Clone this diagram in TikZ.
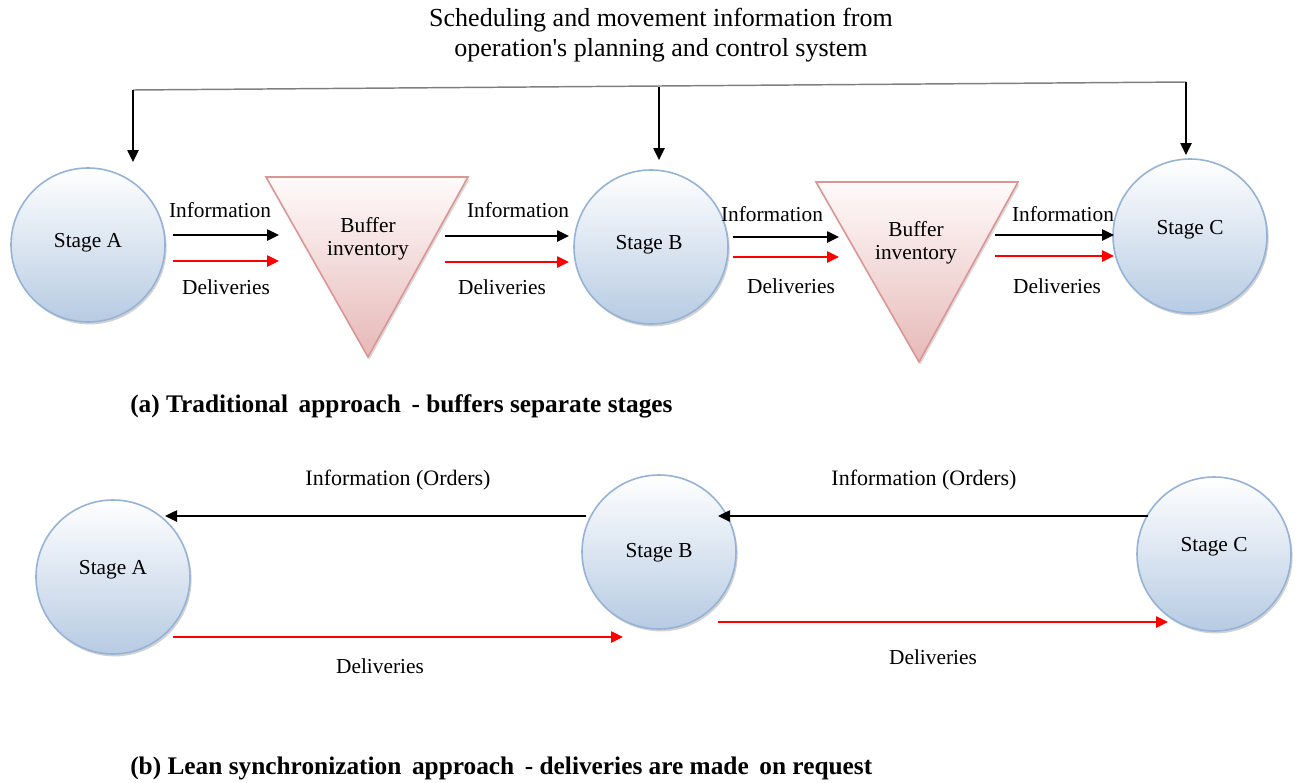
\documentclass[tikz,border=0pt]{standalone}
\usepackage{fontspec}
\setmainfont{Liberation Serif}
\newfontfamily\rawserif{Liberation Serif}
\usetikzlibrary{arrows.meta,shadows}
\definecolor{stageedge}{HTML}{95B3D7}
\definecolor{stagebot}{HTML}{B7CBE3}
\definecolor{bufedge}{HTML}{D99694}
\definecolor{bufbot}{HTML}{E6B9B8}
\definecolor{buftop}{HTML}{FFFAFA}
\definecolor{topline}{HTML}{7F7F7F}
\begin{document}
\begin{tikzpicture}[x=0.75pt,y=-0.75pt,
  font=\fontsize{16}{17.5}\selectfont,
  stage/.style={circle, draw=stageedge, line width=1.2pt, minimum size=115.5pt, inner sep=0pt,
    top color=white, bottom color=stagebot,
    drop shadow={shadow xshift=1.2pt, shadow yshift=-1.8pt, opacity=0.25, fill=black!70}},
  buffer/.style={draw=bufedge, line width=1.2pt, top color=buftop, bottom color=bufbot,
    drop shadow={shadow xshift=1.2pt, shadow yshift=-1.8pt, opacity=0.2, fill=black!70}},
  tip/.style={-{Triangle[length=9pt,width=8.5pt]}},
  info/.style={tip, line width=1.1pt, black},
  deliv/.style={tip, line width=1.1pt, red},
  lbl/.style={inner sep=0pt},
  caption/.style={inner sep=0pt, anchor=west, font=\fontsize{19}{22}\selectfont\bfseries}]
\useasboundingbox (0,0) rectangle (1302,782);

% ---------- (a) traditional ----------
\node[lbl, align=center, font=\rawserif\fontsize{19.5}{22.5}\selectfont] (title) at (661,35) {Scheduling and movement information from\\operation's planning and control system};

\node[stage] (A) at (88,245) {};
\node[lbl] (Atxt) at (88,243) {Stage A};
\node[stage] (B) at (651,247) {};
\node[lbl] (Btxt) at (649,245) {Stage B};
\node[stage] (C) at (1190,236) {};
\node[lbl] (Ctxt) at (1190,230) {Stage C};

\shade[buffer] (266,177) coordinate (b1l) -- (468,177) coordinate (b1r) -- (368,357) coordinate (b1b) -- cycle;
\node[lbl, align=center] (buf1) at (368,239) {Buffer\\inventory};
\shade[buffer] (816,182) coordinate (b2l) -- (1018,182) coordinate (b2r) -- (919,362) coordinate (b2b) -- cycle;
\node[lbl, align=center] (buf2) at (916,243) {Buffer\\inventory};

% top feedback line
\coordinate (tl) at (133,90);
\coordinate (tr) at (1186,82);
\coordinate (tm) at (659,87);
\coordinate (al) at (133,162);
\coordinate (am) at (659,160);
\coordinate (ar) at (1186,155);
\draw[topline, line width=1.1pt] (tl) -- (tr);
\draw[info] (tl) -- (al);
\draw[info] (tm) -- (am);
\draw[info] (tr) -- (ar);

% segment coordinates
\coordinate (i1s) at (173,235); \coordinate (i1e) at (279,235);
\coordinate (d1s) at (173,261); \coordinate (d1e) at (279,261);
\coordinate (i2s) at (445,236); \coordinate (i2e) at (569,236);
\coordinate (d2s) at (445,262); \coordinate (d2e) at (569,262);
\coordinate (i3s) at (733,237); \coordinate (i3e) at (839,237);
\coordinate (d3s) at (733,257); \coordinate (d3e) at (839,257);
\coordinate (i4s) at (995,235); \coordinate (i4e) at (1114,235);
\coordinate (d4s) at (995,256); \coordinate (d4e) at (1114,256);
\draw[info] (i1s) -- (i1e);
\draw[deliv] (d1s) -- (d1e);
\draw[info] (i2s) -- (i2e);
\draw[deliv] (d2s) -- (d2e);
\draw[info] (i3s) -- (i3e);
\draw[deliv] (d3s) -- (d3e);
\draw[info] (i4s) -- (i4e);
\draw[deliv] (d4s) -- (d4e);

\node[lbl] (li1) at (220,210) {Information};
\node[lbl] (ld1) at (226,287) {Deliveries};
\node[lbl] (li2) at (518,210) {Information};
\node[lbl] (ld2) at (502,287) {Deliveries};
\node[lbl] (li3) at (772,214) {Information};
\node[lbl] (ld3) at (791,286) {Deliveries};
\node[lbl] (li4) at (1063,214) {Information};
\node[lbl] (ld4) at (1057,286) {Deliveries};

\node[caption] (capa) at (130,406) {(a) Traditional\, approach\, - buffers separate stages};

% ---------- (b) lean ----------
\node[stage] (A2) at (113,577) {};
\node[lbl] (A2txt) at (113,570) {Stage A};
\node[stage] (B2) at (659,552) {};
\node[lbl] (B2txt) at (659,553) {Stage B};
\node[stage] (C2) at (1214,554) {};
\node[lbl] (C2txt) at (1214,547) {Stage C};

\coordinate (o1s) at (586,516); \coordinate (o1e) at (165,516);
\coordinate (o2s) at (1148,516); \coordinate (o2e) at (718,516);
\coordinate (e1s) at (173,637); \coordinate (e1e) at (623,637);
\coordinate (e2s) at (718,622); \coordinate (e2e) at (1168,622);
\draw[info] (o1s) -- (o1e);
\draw[info] (o2s) -- (o2e);
\draw[deliv] (e1s) -- (e1e);
\draw[deliv] (e2s) -- (e2e);

\node[lbl, font=\fontsize{16.5}{19}\selectfont] (lo1) at (398,480) {Information (Orders)};
\node[lbl, font=\fontsize{16.5}{19}\selectfont] (lo2) at (924,480) {Information (Orders)};
\node[lbl] (le1) at (380,666) {Deliveries};
\node[lbl] (le2) at (933,657) {Deliveries};

\node[caption] (capb) at (130,768) {(b) Lean synchronization\, approach\, - deliveries are made\, on request};
\end{tikzpicture}
\end{document}
